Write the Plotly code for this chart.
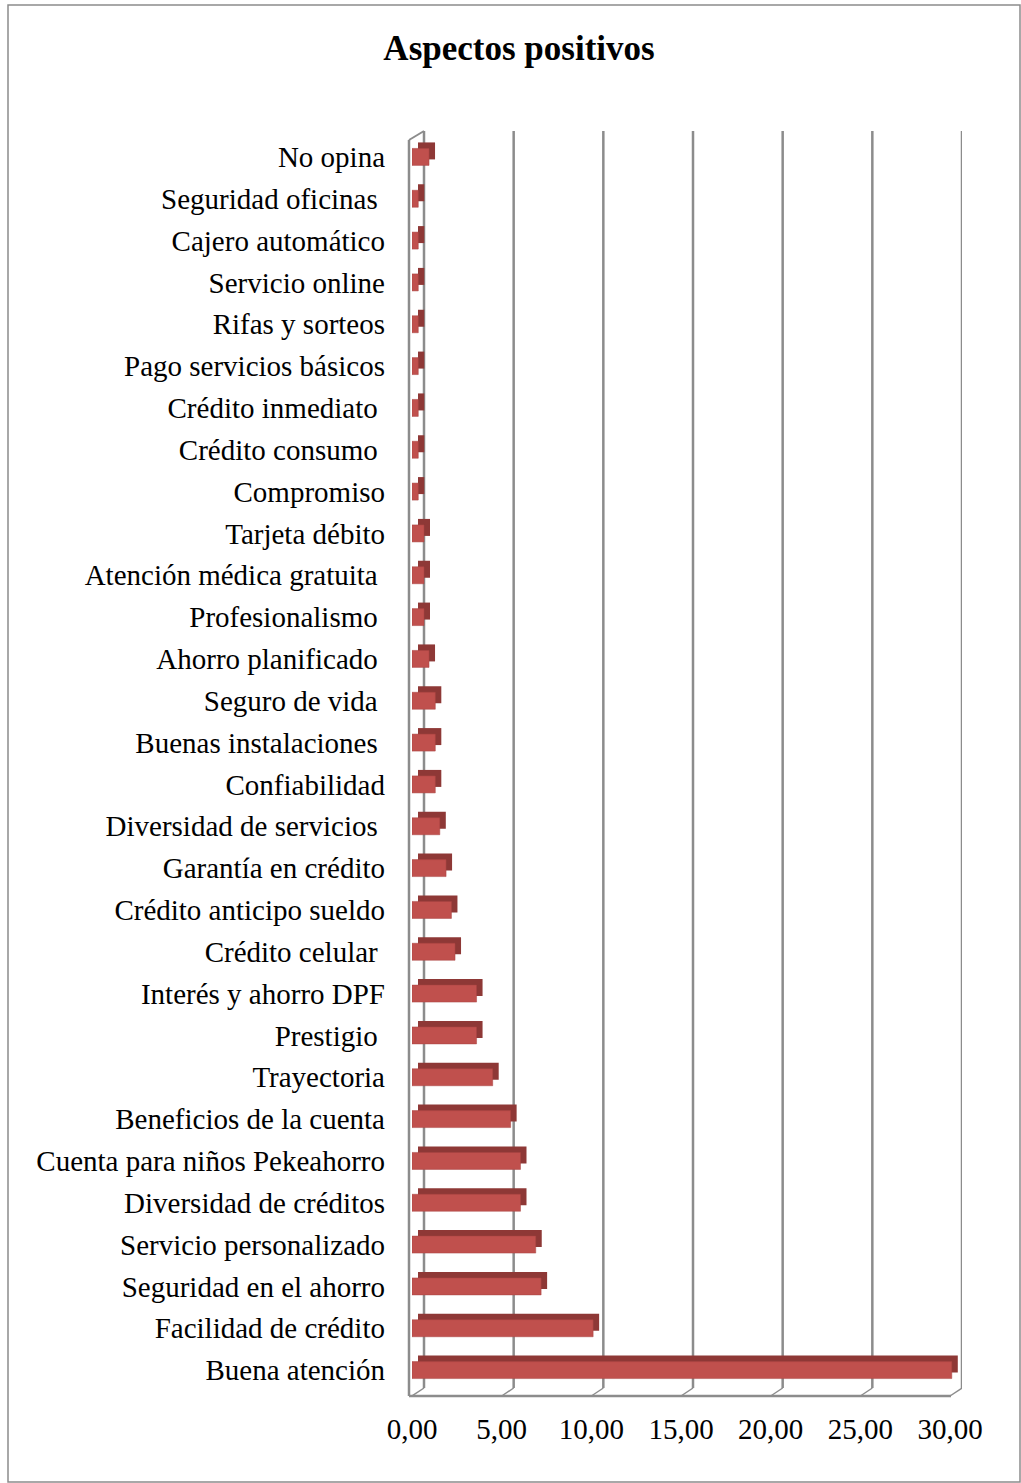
import plotly.graph_objects as go

categories = [
    "No opina", "Seguridad oficinas\u00a0", "Cajero automático", "Servicio online",
    "Rifas y sorteos", "Pago servicios básicos", "Crédito inmediato\u00a0",
    "Crédito consumo\u00a0", "Compromiso", "Tarjeta débito",
    "Atención médica gratuita\u00a0", "Profesionalismo\u00a0", "Ahorro planificado\u00a0",
    "Seguro de vida\u00a0", "Buenas instalaciones\u00a0", "Confiabilidad",
    "Diversidad de servicios\u00a0", "Garantía en crédito", "Crédito anticipo sueldo",
    "Crédito celular\u00a0", "Interés y ahorro DPF", "Prestigio\u00a0", "Trayectoria",
    "Beneficios de la cuenta", "Cuenta para niños Pekeahorro", "Diversidad de créditos",
    "Servicio personalizado", "Seguridad en el ahorro", "Facilidad de crédito",
    "Buena atención",
]
values = [
    0.95, 0.35, 0.35, 0.35, 0.35, 0.35, 0.35, 0.35, 0.35, 0.67,
    0.67, 0.67, 0.95, 1.30, 1.30, 1.30, 1.55, 1.90, 2.20, 2.40,
    3.60, 3.60, 4.50, 5.50, 6.05, 6.05, 6.90, 7.20, 10.10, 30.10,
]
tick_vals = [0, 5, 10, 15, 20, 25, 30]
tick_text = ["0,00", "5,00", "10,00", "15,00", "20,00", "25,00", "30,00"]

W, H = 1021, 1483
PL, PR, PT, PB = 412, 962, 136, 1391
FRONT_R = 950
AXMAX = 30
px_per_unit = (FRONT_R - PL) / AXMAX
x_range_max = AXMAX * (PR - PL) / (FRONT_R - PL)
row_h = (PB - PT) / len(categories)

wall_shift = 12 / px_per_unit   # back wall offset in data units
depth_x = 6 / px_per_unit       # bar side face depth in data units
depth_y = 6 / row_h             # bar top face depth in category units
bar_w = 17 / row_h


def px(x):
    return (x - PL) / (PR - PL)


def py(y):
    return (PB - y) / (PB - PT)


FONT = "Liberation Serif, Times New Roman, serif"
GRID = "#8c8c8c"

fig = go.Figure()

# darker "depth" bar (top + side faces)
fig.add_trace(go.Bar(
    y=categories, x=values, base=[depth_x] * len(values), orientation="h",
    width=bar_w, offset=-bar_w / 2 - depth_y,
    marker=dict(color="#8e3836", line=dict(width=0)),
    hoverinfo="skip", showlegend=False,
))
# front face
fig.add_trace(go.Bar(
    y=categories, x=values, orientation="h",
    width=bar_w, offset=-bar_w / 2,
    marker=dict(color="#c0504d", line=dict(color="#a94543", width=0.5)),
    showlegend=False,
))

shapes = [
    # outer chart border
    dict(type="rect", xref="paper", yref="paper", x0=px(8), x1=px(1020), y0=py(1482), y1=py(5),
         line=dict(color="#8c8c8c", width=1.5), layer="below"),
]
# back-wall gridlines (shifted by the 3D depth)
for t in tick_vals:
    shapes.append(dict(type="line", xref="x", yref="paper", x0=t + wall_shift, x1=t + wall_shift,
                       y0=py(1388), y1=py(131), line=dict(color=GRID, width=2.5), layer="below"))
    # floor diagonals
    shapes.append(dict(type="line", xref="x", yref="paper", x0=t, x1=t + wall_shift,
                       y0=py(1396), y1=py(1388), line=dict(color=GRID, width=1.5), layer="below"))
shapes += [
    # left wall front edge
    dict(type="line", xref="paper", yref="paper", x0=px(409), x1=px(409), y0=py(1396), y1=py(140),
         line=dict(color=GRID, width=2.5)),
    # left wall top diagonal
    dict(type="line", xref="paper", yref="paper", x0=px(409), x1=px(424), y0=py(140), y1=py(131),
         line=dict(color=GRID, width=2)),
    # floor front edge
    dict(type="line", xref="paper", yref="paper", x0=px(409), x1=px(951), y0=py(1396), y1=py(1396),
         line=dict(color=GRID, width=2.5)),
]

fig.update_layout(
    width=W, height=H,
    margin=dict(l=PL, r=W - PR, t=PT, b=H - PB),
    paper_bgcolor="white", plot_bgcolor="white",
    barmode="overlay",
    font=dict(family=FONT, size=29, color="black"),
    title=dict(text="<b>Aspectos positivos</b>", x=519 / W, xanchor="center",
               y=1 - 48 / H, yanchor="middle", font=dict(family=FONT, size=35, color="black")),
    xaxis=dict(range=[0, x_range_max], tickvals=tick_vals, ticktext=tick_text,
               showgrid=False, zeroline=False, showline=False, ticks="",
               ticklabelstandoff=18, tickfont=dict(family=FONT, size=29)),
    yaxis=dict(categoryorder="array", categoryarray=categories,
               range=[len(categories) - 0.5, -0.5],
               showgrid=False, zeroline=False, showline=False, ticks="",
               ticklabelstandoff=26, tickfont=dict(family=FONT, size=29)),
    shapes=shapes,
)

fig.write_html("out.html")
